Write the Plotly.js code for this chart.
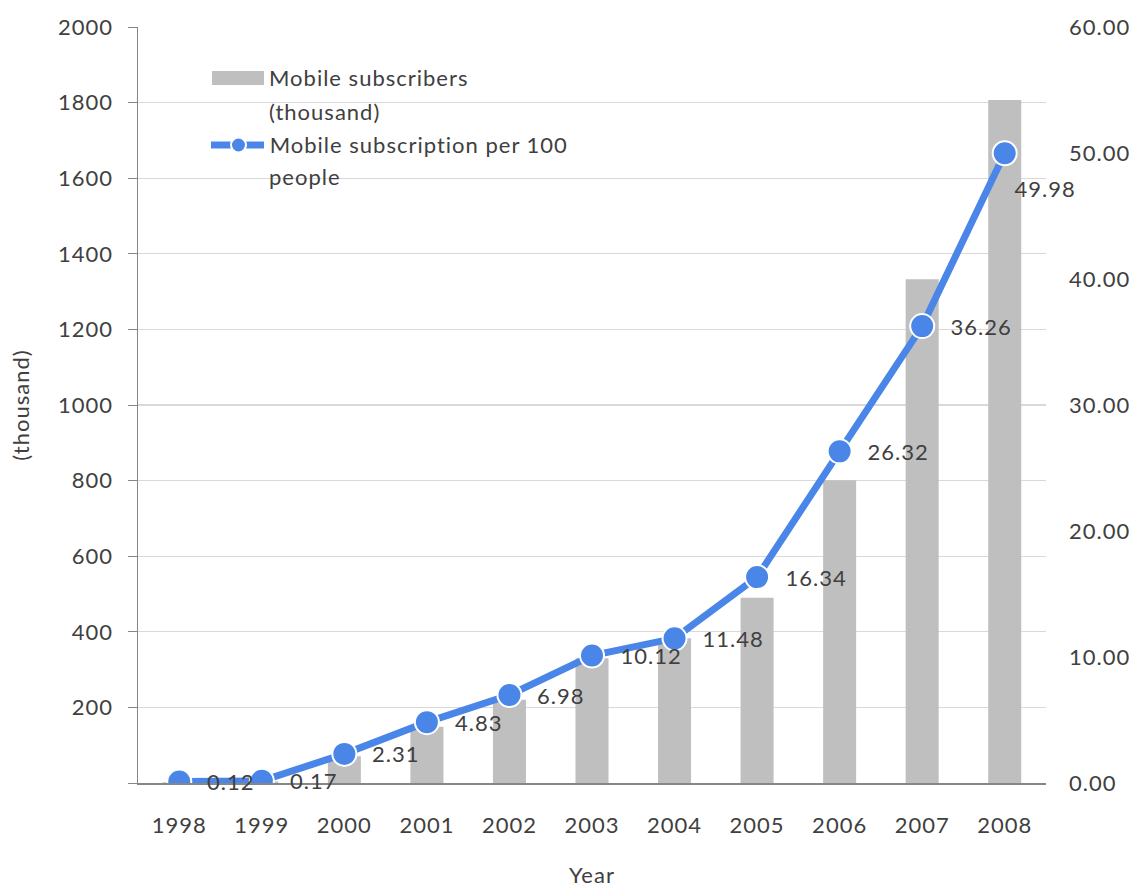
<!DOCTYPE html>
<html>
<head>
<meta charset="utf-8">
<script src="https://cdn.plot.ly/plotly-3.0.1.min.js"></script>
<style>html,body{margin:0;padding:0;background:#fff}#chart{width:1134px;height:888px}
#chart svg text{letter-spacing:1px}</style>
</head>
<body>
<div id="chart"></div>
<script>
const years = ['1998','1999','2000','2001','2002','2003','2004','2005','2006','2007','2008'];
const subscribers = [2, 4, 71, 149, 220, 330, 383, 490, 801, 1333, 1807];
const per100 = [0.12, 0.17, 2.31, 4.83, 6.98, 10.12, 11.48, 16.34, 26.32, 36.26, 49.98];
const leftTicks = [0, 200, 400, 600, 800, 1000, 1200, 1400, 1600, 1800, 2000];
const rightTicks = [0, 10, 20, 30, 40, 50, 60];
const seriesNames = ['Mobile subscribers<br>(thousand)', 'Mobile subscription per 100<br>people'];

const FONT = 'Lato, "Open Sans", sans-serif';
const TXT = '#404040';
const BLUE = '#4a86e8';
const GRAY = '#bfbfbf';
const LS = 1; // css letter-spacing (px), compensated in left-anchored annotations

// plot area in pixels
const L = 138, R = 1046, T = 27, B = 783;
const px = x => (x - L) / (R - L);
const py = y => (B - y) / (B - T);

const traces = [
  {type: 'bar', x: years, y: subscribers, name: seriesNames[0], marker: {color: GRAY},
   hoverinfo: 'x+y', showlegend: false},
  {type: 'scatter', mode: 'lines+markers', x: years, y: per100, yaxis: 'y2', name: seriesNames[1],
   line: {color: BLUE, width: 7}, marker: {color: BLUE, size: 24, line: {color: '#fff', width: 2}},
   showlegend: false}
];

const annotations = per100.map((v, i) => {
  const last = i === per100.length - 1;
  const t = v.toFixed(2);
  return {x: i, y: v, xref: 'x', yref: 'y2', text: t, showarrow: false,
    xanchor: 'left', yanchor: 'middle', xshift: (last ? 8 : 26) + t.length * LS / 2, yshift: last ? -35 : 0,
    font: {family: FONT, size: 22, color: TXT}};
});

// legend text
const legLines = [
  [seriesNames[0].split('<br>')[0], 78],
  [seriesNames[0].split('<br>')[1], 111],
  [seriesNames[1].split('<br>')[0], 145],
  [seriesNames[1].split('<br>')[1], 177]
];
legLines.forEach(([t, y]) => annotations.push({
  xref: 'paper', yref: 'paper', x: px(267), y: py(y), xanchor: 'left', yanchor: 'middle',
  xshift: t.length * LS / 2,
  text: t, showarrow: false, font: {family: FONT, size: 22, color: TXT}
}));

const shapes = [
  {type: 'rect', xref: 'paper', yref: 'paper', x0: px(203), x1: px(581), y0: py(196), y1: py(58),
   fillcolor: '#fff', line: {width: 0}, layer: 'below'},
  {type: 'rect', xref: 'paper', yref: 'paper', x0: px(212), x1: px(264), y0: py(85), y1: py(71),
   fillcolor: GRAY, line: {width: 0}},
  {type: 'line', xref: 'paper', yref: 'paper', x0: px(211), x1: px(264), y0: py(145), y1: py(145),
   line: {color: BLUE, width: 7, cap: 'round'}},
  {type: 'circle', xref: 'paper', yref: 'paper', x0: px(231), x1: px(246), y0: py(152.5), y1: py(137.5),
   fillcolor: BLUE, line: {color: '#fff', width: 2}}
];

const layout = {
  width: 1134, height: 888,
  margin: {l: L, r: 1134 - R, t: T, b: 888 - B},
  paper_bgcolor: '#fff', plot_bgcolor: '#fff',
  font: {family: FONT, size: 22, color: TXT},
  showlegend: false,
  bargap: 0.6,
  xaxis: {type: 'category', range: [-0.5, years.length - 0.5], autorange: false,
    showgrid: false, showline: true, linecolor: '#868686', linewidth: 1.5,
    ticks: '', ticklabelstandoff: 22, tickfont: {family: FONT, size: 22, color: TXT},
    title: {text: 'Year', standoff: 37, font: {family: FONT, size: 22, color: TXT}}, fixedrange: true},
  yaxis: {range: [0, 2000], autorange: false, tickvals: leftTicks, ticktext: leftTicks.map(v => v === 0 ? '' : String(v)),
    showgrid: true, gridcolor: '#d9d9d9', gridwidth: 1.3, zeroline: false,
    showline: true, linecolor: '#868686', linewidth: 1.5, ticks: 'outside', ticklen: 9, tickcolor: '#868686',
    ticklabelstandoff: 10, tickfont: {family: FONT, size: 22, color: TXT},
    title: {text: '(thousand)', standoff: 26, font: {family: FONT, size: 22, color: TXT}}},
  yaxis2: {range: [0, 60], autorange: false, overlaying: 'y', side: 'right', tickvals: rightTicks, ticktext: rightTicks.map(v => v.toFixed(2)),
    showgrid: false, zeroline: false, showline: false, ticks: '', ticklabelstandoff: 22,
    tickfont: {family: FONT, size: 22, color: TXT}},
  annotations: annotations,
  shapes: shapes
};

Plotly.newPlot('chart', traces, layout, {displayModeBar: false, staticPlot: true});
</script>
</body>
</html>
